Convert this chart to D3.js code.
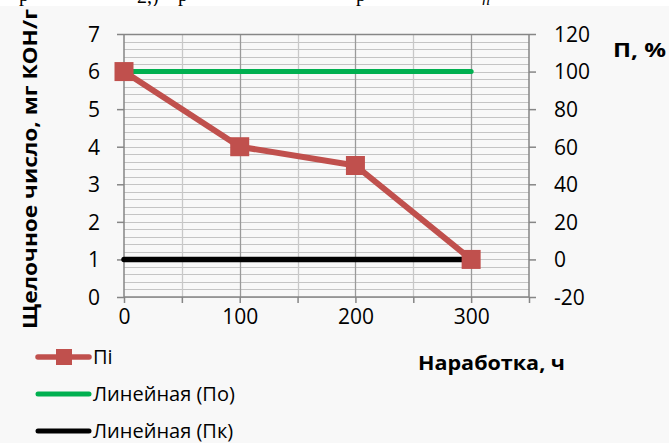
<!DOCTYPE html>
<html>
<head>
<meta charset="utf-8">
<script src="https://cdn.jsdelivr.net/npm/d3@7"></script>
<style>
  html, body { margin: 0; padding: 0; background: #ffffff; }
  svg { display: block; }
  text { font-family: "Open Sans", "DejaVu Sans", sans-serif; fill: #000; }
</style>
</head>
<body>
<svg id="chart" width="669" height="443"></svg>
<script>
// Наработка, ч
const hours = [0, 100, 200, 300];
// Щелочное число Пі, мг КОН/г
const piValues = [6, 4, 3.5, 1];
// Линейные тренды: исходное (По) и конечное (Пк) значения
const poValue = 6;
const pkValue = 1;
const trendRange = [0, 300];

const xTicks = [0, 50, 100, 150, 200, 250, 300, 350];
const xLabels = [0, 100, 200, 300];
const yLeftTicks = [0, 1, 2, 3, 4, 5, 6, 7];
const yRightTicks = [-20, 0, 20, 40, 60, 80, 100, 120];

const legendItems = ["Пі", "Линейная (По)", "Линейная (Пк)"];

const svg = d3.select("#chart");
const W = 669, H = 443;

// chart background
svg.append("rect").attr("x", 0).attr("y", 6).attr("width", W).attr("height", H - 6)
  .attr("fill", "#f8f8f8");

// preceding text line cut at the top edge
const clip = svg.append("defs").append("clipPath").attr("id", "topclip");
clip.append("rect").attr("x", 0).attr("y", 0).attr("width", W).attr("height", 6);
const topLine = svg.append("g").attr("clip-path", "url(#topclip)");
[["р", 19, 1], ["2,)", 137, 3], ["р", 178, 1], ["р", 356, 1]].forEach(([t, px, py]) => {
  topLine.append("text").attr("x", px).attr("y", py)
    .style("font-family", "'Liberation Serif', serif").style("font-size", "20px").text(t);
});
topLine.append("text").attr("x", 482).attr("y", 5)
  .style("font-family", "'Liberation Serif', serif")
  .style("font-style", "italic").style("font-size", "16px").text("n");

const x = d3.scaleLinear().domain([0, 350]).range([124, 529]);
const y = d3.scaleLinear().domain([0, 7]).range([297, 34]);
const yR = d3.scaleLinear().domain([-20, 120]).range([297, 34]);

// horizontal minor grid every 0.2
const hGrid = d3.range(0, 7.0001, 0.2).map(v => +v.toFixed(1));
svg.append("g").selectAll("line").data(hGrid).join("line")
  .attr("x1", x(0)).attr("x2", x(350))
  .attr("y1", d => Math.round(y(d)) + 0.5).attr("y2", d => Math.round(y(d)) + 0.5)
  .attr("stroke", "#c4c4c4").attr("stroke-width", 1.2);

// vertical grid: 100s darker, 50s lighter
svg.append("g").selectAll("line").data(xTicks.filter(d => d > 0 && d < 350)).join("line")
  .attr("x1", d => Math.round(x(d)) + 0.5).attr("x2", d => Math.round(x(d)) + 0.5)
  .attr("y1", y(7)).attr("y2", y(0))
  .attr("stroke", d => d % 100 === 0 ? "#9a9a9a" : "#c8c8c8")
  .attr("stroke-width", 1.3);

// axes
const axisColor = "#868686";
const fontSize = "21px";
const plain = d => String(d);

const bottomAxis = svg.append("g").attr("transform", `translate(0,${y(0)})`)
  .call(d3.axisBottom(x).tickValues(xTicks).tickSize(6)
    .tickFormat(d => xLabels.includes(d) ? plain(d) : ""));
const leftAxis = svg.append("g").attr("transform", `translate(${x(0)},0)`)
  .call(d3.axisLeft(y).tickValues(yLeftTicks).tickSize(7).tickPadding(17).tickFormat(plain));
const rightAxis = svg.append("g").attr("transform", `translate(${x(350)},0)`)
  .call(d3.axisRight(yR).tickValues(yRightTicks).tickSize(7).tickPadding(18).tickFormat(plain));

// top border of the plot area
svg.append("line").attr("x1", x(0)).attr("x2", x(350))
  .attr("y1", y(7) + 0.5).attr("y2", y(7) + 0.5).attr("stroke", axisColor).attr("stroke-width", 1.3);

[bottomAxis, leftAxis, rightAxis].forEach(g => {
  g.select(".domain").attr("stroke", axisColor).attr("stroke-width", 1.5);
  g.selectAll(".tick line").attr("stroke", axisColor).attr("stroke-width", 1.5);
  g.selectAll(".tick text").style("font-size", fontSize)
    .style("font-family", "'Open Sans', sans-serif").attr("fill", "#000");
});
bottomAxis.selectAll(".tick text").attr("dy", "0.85em");
leftAxis.selectAll(".tick text").attr("dy", "0.35em");
rightAxis.selectAll(".tick text").attr("dy", "0.35em");
bottomAxis.select(".domain").attr("d", `M${x(0)},0H${x(350)}`);
leftAxis.select(".domain").attr("d", `M0,${y(0)}V${y(7)}`);
rightAxis.select(".domain").attr("d", `M0,${y(0)}V${y(7)}`);

// trend lines
const line = d3.line().x(d => x(d[0])).y(d => y(d[1]));
svg.append("path").datum(trendRange.map(h => [h, poValue]))
  .attr("d", line).attr("stroke", "#00b050").attr("stroke-width", 5)
  .attr("fill", "none").attr("stroke-linecap", "round");
svg.append("path").datum(trendRange.map(h => [h, pkValue]))
  .attr("d", line).attr("stroke", "#000").attr("stroke-width", 5.5)
  .attr("fill", "none").attr("stroke-linecap", "round");

// Пі series
const red = "#c0504d";
const piData = hours.map((h, i) => [h, piValues[i]]);
svg.append("path").datum(piData).attr("d", line)
  .attr("stroke", red).attr("stroke-width", 6).attr("fill", "none")
  .attr("stroke-linejoin", "round");
const m = 19;
svg.append("g").selectAll("rect").data(piData).join("rect")
  .attr("x", d => x(d[0]) - m / 2).attr("y", d => y(d[1]) - m / 2)
  .attr("width", m).attr("height", m).attr("fill", red);

// axis titles
svg.append("text")
  .attr("transform", `translate(37,329) rotate(-90)`)
  .attr("text-anchor", "start")
  .style("font-size", "20px").style("font-weight", "bold")
  .attr("textLength", 320).attr("lengthAdjust", "spacingAndGlyphs")
  .text("Щелочное число, мг КОН/г");
svg.append("text").attr("x", 613).attr("y", 57)
  .style("font-size", "20px").style("font-weight", "bold")
  .attr("textLength", 53).attr("lengthAdjust", "spacingAndGlyphs").text("П, %");
svg.append("text").attr("x", 418).attr("y", 370)
  .style("font-size", "19px").style("font-weight", "bold")
  .attr("textLength", 147).attr("lengthAdjust", "spacingAndGlyphs")
  .text("Наработка, ч");

// legend
const legendY = [357, 394, 431];
const legendColors = [red, "#00b050", "#000"];
const lg = svg.append("g");
legendItems.forEach((name, i) => {
  lg.append("line").attr("x1", 38).attr("x2", 89)
    .attr("y1", legendY[i]).attr("y2", legendY[i])
    .attr("stroke", legendColors[i]).attr("stroke-width", i === 0 ? 5.5 : 5)
    .attr("stroke-linecap", "round");
  if (i === 0) {
    lg.append("rect").attr("x", 56).attr("y", legendY[i] - 8)
      .attr("width", 16).attr("height", 16).attr("fill", red);
  }
  lg.append("text").attr("x", 93).attr("y", legendY[i] + 7)
    .style("font-size", "20px").text(name);
});
</script>
</body>
</html>
